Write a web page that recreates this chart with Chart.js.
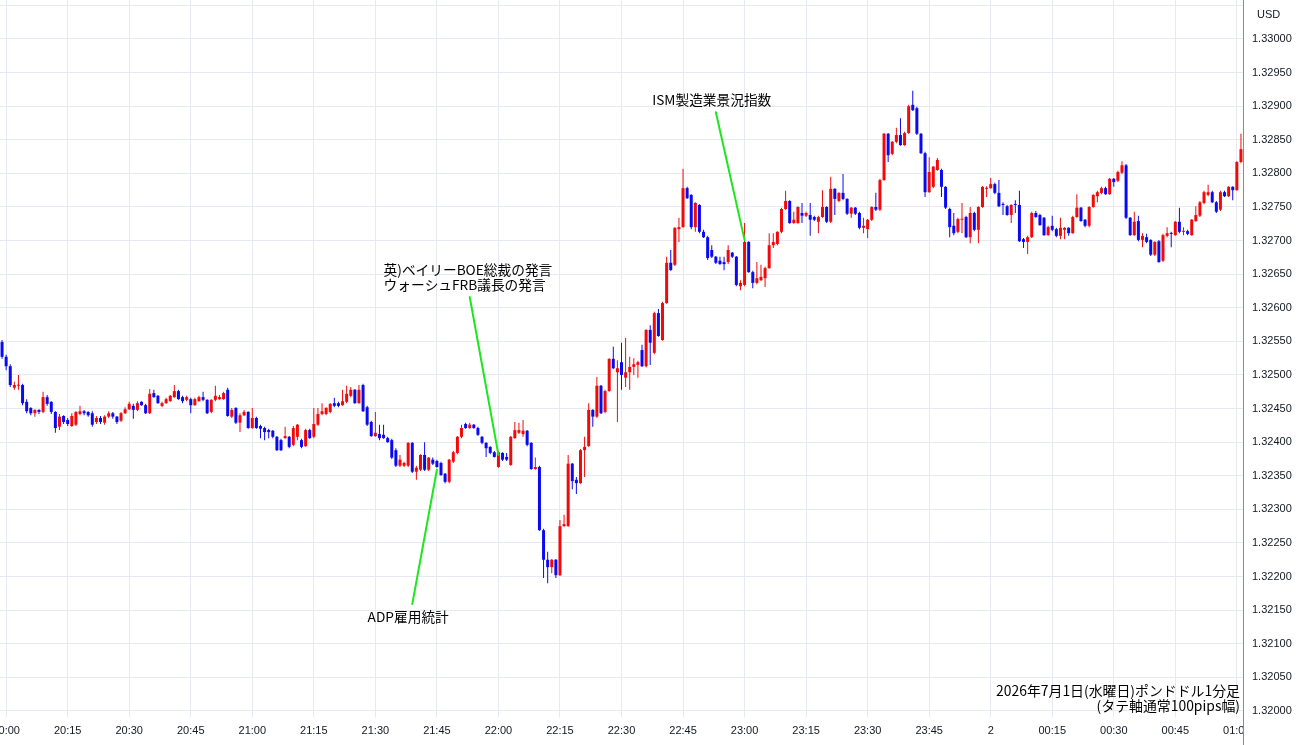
<!DOCTYPE html>
<html>
<head>
<meta charset="utf-8">
<script src="https://cdn.jsdelivr.net/npm/chart.js@4.4.1/dist/chart.umd.min.js"></script>
<style>
  html, body { margin: 0; padding: 0; background: #fff; overflow: hidden; }
  canvas { display: block; }
</style>
</head>
<body>
<canvas id="myChart" width="1300" height="745"></canvas>
<script>
// GBP/USD 1-minute candles, first candle at 19:59
const startTime = '19:59';

const opens = [
1.32549,1.32527,1.32513,1.32481,1.32484,1.32485,1.32460,1.32451,1.32443,1.32448,
1.32445,1.32467,1.32460,1.32445,1.32423,1.32439,1.32433,1.32424,1.32426,1.32442,
1.32446,1.32445,1.32443,1.32430,1.32436,1.32429,1.32438,1.32443,1.32438,1.32432,
1.32443,1.32449,1.32454,1.32448,1.32460,1.32455,1.32443,1.32473,1.32469,1.32454,
1.32458,1.32461,1.32467,1.32476,1.32467,1.32463,1.32464,1.32455,1.32461,1.32467,
1.32463,1.32445,1.32463,1.32464,1.32464,1.32478,1.32438,1.32451,1.32429,1.32440,
1.32445,1.32421,1.32436,1.32424,1.32421,1.32418,1.32417,1.32408,1.32403,1.32406,
1.32408,1.32396,1.32408,1.32403,1.32394,1.32418,1.32408,1.32426,1.32442,1.32442,
1.32445,1.32458,1.32458,1.32455,1.32460,1.32469,1.32478,1.32458,1.32485,1.32452,
1.32430,1.32409,1.32412,1.32411,1.32406,1.32403,1.32388,1.32365,1.32365,1.32365,
1.32399,1.32356,1.32359,1.32381,1.32359,1.32374,1.32372,1.32369,1.32353,1.32341,
1.32371,1.32384,1.32408,1.32427,1.32421,1.32426,1.32421,1.32408,1.32399,1.32393,
1.32385,1.32363,1.32384,1.32378,1.32366,1.32406,1.32414,1.32412,1.32417,1.32399,
1.32360,1.32363,1.32269,1.32225,1.32214,1.32225,1.32202,1.32275,1.32275,1.32368,
1.32344,1.32339,1.32388,1.32394,1.32448,1.32438,1.32484,1.32445,1.32476,1.32524,
1.32504,1.32519,1.32496,1.32504,1.32512,1.32515,1.32537,1.32513,1.32567,1.32533,
1.32592,1.32552,1.32607,1.32667,1.32664,1.32717,1.32720,1.32778,1.32768,1.32720,
1.32753,1.32713,1.32705,1.32686,1.32676,1.32670,1.32668,1.32668,1.32682,1.32676,
1.32632,1.32634,1.32698,1.32653,1.32637,1.32641,1.32644,1.32659,1.32693,1.32695,
1.32713,1.32747,1.32759,1.32726,1.32726,1.32741,1.32737,1.32738,1.32735,1.32728,
1.32735,1.32750,1.32728,1.32777,1.32759,1.32771,1.32762,1.32740,1.32749,1.32741,
1.32719,1.32717,1.32731,1.32750,1.32746,1.32790,1.32859,1.32829,1.32847,1.32857,
1.32842,1.32860,1.32902,1.32897,1.32859,1.32830,1.32772,1.32780,1.32805,1.32805,
1.32780,1.32747,1.32722,1.32713,1.32731,1.32735,1.32705,1.32741,1.32716,1.32750,
1.32777,1.32778,1.32784,1.32771,1.32754,1.32751,1.32738,1.32754,1.32753,1.32702,
1.32698,1.32705,1.32741,1.32738,1.32734,1.32708,1.32722,1.32717,1.32707,1.32716,
1.32719,1.32711,1.32735,1.32749,1.32731,1.32722,1.32750,1.32766,1.32771,1.32778,
1.32769,1.32792,1.32789,1.32801,1.32812,1.32734,1.32708,1.32729,1.32701,1.32705,
1.32701,1.32679,1.32699,1.32670,1.32707,1.32711,1.32708,1.32728,1.32713,1.32714,
1.32708,1.32729,1.32737,1.32756,1.32768,1.32772,1.32757,1.32746,1.32772,1.32766,
1.32780,1.32775,1.32817
];

const highs = [
1.32552,1.32530,1.32516,1.32490,1.32500,1.32487,1.32464,1.32452,1.32449,1.32449,
1.32475,1.32470,1.32461,1.32446,1.32442,1.32440,1.32436,1.32443,1.32446,1.32454,
1.32448,1.32446,1.32446,1.32439,1.32439,1.32440,1.32446,1.32445,1.32439,1.32445,
1.32452,1.32460,1.32457,1.32461,1.32461,1.32457,1.32479,1.32478,1.32470,1.32460,
1.32466,1.32470,1.32485,1.32478,1.32469,1.32469,1.32466,1.32466,1.32469,1.32475,
1.32464,1.32464,1.32484,1.32470,1.32475,1.32481,1.32451,1.32452,1.32443,1.32448,
1.32446,1.32451,1.32438,1.32426,1.32423,1.32420,1.32418,1.32409,1.32405,1.32423,
1.32409,1.32424,1.32427,1.32405,1.32420,1.32420,1.32451,1.32451,1.32458,1.32452,
1.32458,1.32466,1.32460,1.32478,1.32484,1.32482,1.32479,1.32485,1.32487,1.32454,
1.32432,1.32445,1.32426,1.32426,1.32408,1.32405,1.32391,1.32381,1.32371,1.32400,
1.32400,1.32365,1.32382,1.32400,1.32378,1.32377,1.32374,1.32371,1.32354,1.32375,
1.32387,1.32409,1.32426,1.32429,1.32429,1.32427,1.32423,1.32409,1.32400,1.32394,
1.32387,1.32387,1.32385,1.32384,1.32409,1.32430,1.32429,1.32433,1.32418,1.32400,
1.32377,1.32365,1.32271,1.32237,1.32226,1.32226,1.32284,1.32292,1.32381,1.32369,
1.32348,1.32390,1.32408,1.32458,1.32449,1.32497,1.32485,1.32478,1.32525,1.32542,
1.32522,1.32548,1.32555,1.32527,1.32525,1.32521,1.32545,1.32568,1.32574,1.32594,
1.32598,1.32609,1.32676,1.32686,1.32720,1.32734,1.32807,1.32780,1.32769,1.32757,
1.32754,1.32716,1.32707,1.32693,1.32677,1.32676,1.32676,1.32693,1.32683,1.32677,
1.32641,1.32726,1.32699,1.32655,1.32668,1.32664,1.32661,1.32711,1.32711,1.32714,
1.32749,1.32774,1.32760,1.32743,1.32751,1.32756,1.32743,1.32756,1.32737,1.32737,
1.32775,1.32751,1.32795,1.32778,1.32772,1.32799,1.32763,1.32750,1.32750,1.32743,
1.32734,1.32732,1.32751,1.32771,1.32792,1.32860,1.32860,1.32848,1.32868,1.32882,
1.32862,1.32902,1.32923,1.32899,1.32860,1.32832,1.32824,1.32811,1.32823,1.32807,
1.32781,1.32749,1.32741,1.32734,1.32756,1.32737,1.32750,1.32743,1.32751,1.32781,
1.32781,1.32793,1.32786,1.32790,1.32757,1.32753,1.32754,1.32760,1.32774,1.32704,
1.32707,1.32743,1.32744,1.32740,1.32735,1.32722,1.32737,1.32719,1.32734,1.32720,
1.32720,1.32737,1.32769,1.32750,1.32732,1.32751,1.32769,1.32774,1.32780,1.32780,
1.32793,1.32793,1.32804,1.32818,1.32814,1.32735,1.32743,1.32737,1.32711,1.32710,
1.32702,1.32699,1.32701,1.32710,1.32720,1.32713,1.32729,1.32749,1.32720,1.32716,
1.32732,1.32751,1.32759,1.32774,1.32783,1.32774,1.32759,1.32774,1.32774,1.32781,
1.32781,1.32818,1.32859
];

const lows = [
1.32524,1.32507,1.32482,1.32478,1.32478,1.32455,1.32443,1.32440,1.32438,1.32442,
1.32443,1.32454,1.32442,1.32414,1.32418,1.32427,1.32424,1.32423,1.32424,1.32440,
1.32440,1.32438,1.32423,1.32427,1.32427,1.32426,1.32436,1.32435,1.32427,1.32430,
1.32442,1.32448,1.32435,1.32446,1.32454,1.32442,1.32442,1.32466,1.32457,1.32452,
1.32457,1.32460,1.32466,1.32463,1.32458,1.32461,1.32443,1.32454,1.32460,1.32461,
1.32442,1.32443,1.32461,1.32463,1.32463,1.32438,1.32436,1.32427,1.32415,1.32439,
1.32420,1.32420,1.32420,1.32406,1.32403,1.32406,1.32406,1.32387,1.32387,1.32405,
1.32391,1.32394,1.32403,1.32391,1.32393,1.32405,1.32406,1.32424,1.32440,1.32440,
1.32443,1.32452,1.32452,1.32454,1.32458,1.32467,1.32457,1.32457,1.32445,1.32424,
1.32408,1.32408,1.32403,1.32405,1.32399,1.32375,1.32363,1.32363,1.32363,1.32363,
1.32354,1.32344,1.32357,1.32357,1.32357,1.32366,1.32362,1.32350,1.32339,1.32339,
1.32369,1.32382,1.32406,1.32420,1.32420,1.32420,1.32409,1.32397,1.32378,1.32382,
1.32377,1.32362,1.32372,1.32372,1.32365,1.32405,1.32412,1.32408,1.32394,1.32359,
1.32359,1.32268,1.32198,1.32190,1.32205,1.32198,1.32201,1.32274,1.32274,1.32330,
1.32323,1.32338,1.32348,1.32393,1.32423,1.32436,1.32442,1.32443,1.32475,1.32509,
1.32430,1.32478,1.32482,1.32478,1.32500,1.32496,1.32512,1.32511,1.32515,1.32531,
1.32557,1.32551,1.32606,1.32655,1.32662,1.32698,1.32719,1.32762,1.32717,1.32713,
1.32711,1.32704,1.32671,1.32674,1.32665,1.32664,1.32656,1.32665,1.32674,1.32632,
1.32626,1.32632,1.32652,1.32629,1.32635,1.32640,1.32631,1.32658,1.32689,1.32693,
1.32711,1.32746,1.32725,1.32725,1.32725,1.32726,1.32735,1.32707,1.32729,1.32711,
1.32734,1.32726,1.32726,1.32738,1.32757,1.32760,1.32738,1.32734,1.32738,1.32717,
1.32711,1.32704,1.32729,1.32744,1.32744,1.32789,1.32817,1.32827,1.32845,1.32841,
1.32841,1.32859,1.32893,1.32857,1.32829,1.32765,1.32771,1.32778,1.32804,1.32765,
1.32747,1.32705,1.32708,1.32711,1.32711,1.32704,1.32696,1.32714,1.32696,1.32749,
1.32765,1.32777,1.32769,1.32750,1.32738,1.32737,1.32726,1.32741,1.32698,1.32689,
1.32680,1.32704,1.32734,1.32722,1.32707,1.32707,1.32714,1.32705,1.32702,1.32702,
1.32707,1.32710,1.32734,1.32728,1.32720,1.32720,1.32749,1.32757,1.32769,1.32768,
1.32768,1.32780,1.32787,1.32799,1.32732,1.32707,1.32707,1.32699,1.32690,1.32696,
1.32677,1.32677,1.32667,1.32668,1.32705,1.32690,1.32707,1.32711,1.32708,1.32708,
1.32707,1.32728,1.32735,1.32754,1.32766,1.32756,1.32741,1.32744,1.32765,1.32765,
1.32760,1.32774,1.32815
];

const closes = [
1.32527,1.32513,1.32485,1.32485,1.32485,1.32458,1.32446,1.32443,1.32448,1.32445,
1.32467,1.32457,1.32445,1.32421,1.32438,1.32430,1.32427,1.32439,1.32445,1.32446,
1.32443,1.32440,1.32426,1.32436,1.32430,1.32438,1.32443,1.32438,1.32430,1.32443,
1.32449,1.32457,1.32448,1.32458,1.32455,1.32443,1.32472,1.32467,1.32458,1.32458,
1.32464,1.32469,1.32476,1.32464,1.32461,1.32467,1.32455,1.32464,1.32467,1.32463,
1.32443,1.32463,1.32469,1.32467,1.32473,1.32439,1.32448,1.32429,1.32440,1.32445,
1.32421,1.32436,1.32421,1.32420,1.32415,1.32415,1.32408,1.32388,1.32388,1.32409,
1.32393,1.32421,1.32426,1.32393,1.32418,1.32406,1.32427,1.32442,1.32446,1.32451,
1.32457,1.32454,1.32454,1.32461,1.32472,1.32478,1.32458,1.32478,1.32446,1.32426,
1.32409,1.32414,1.32406,1.32406,1.32400,1.32377,1.32365,1.32374,1.32369,1.32399,
1.32356,1.32362,1.32381,1.32359,1.32377,1.32368,1.32363,1.32351,1.32341,1.32374,
1.32385,1.32408,1.32421,1.32421,1.32426,1.32421,1.32411,1.32399,1.32391,1.32384,
1.32378,1.32385,1.32374,1.32374,1.32408,1.32418,1.32418,1.32417,1.32396,1.32360,
1.32363,1.32269,1.32225,1.32214,1.32225,1.32202,1.32275,1.32278,1.32368,1.32342,
1.32339,1.32388,1.32393,1.32448,1.32438,1.32484,1.32443,1.32476,1.32524,1.32510,
1.32510,1.32500,1.32504,1.32512,1.32516,1.32519,1.32513,1.32567,1.32548,1.32592,
1.32558,1.32607,1.32667,1.32656,1.32719,1.32720,1.32778,1.32763,1.32720,1.32756,
1.32713,1.32705,1.32674,1.32676,1.32667,1.32665,1.32665,1.32686,1.32676,1.32634,
1.32637,1.32698,1.32653,1.32637,1.32644,1.32646,1.32659,1.32693,1.32698,1.32713,
1.32747,1.32759,1.32726,1.32731,1.32750,1.32737,1.32741,1.32731,1.32731,1.32735,
1.32750,1.32728,1.32777,1.32762,1.32771,1.32762,1.32740,1.32749,1.32740,1.32719,
1.32722,1.32731,1.32750,1.32746,1.32790,1.32859,1.32827,1.32847,1.32857,1.32842,
1.32860,1.32900,1.32894,1.32859,1.32830,1.32772,1.32802,1.32810,1.32820,1.32780,
1.32749,1.32720,1.32711,1.32732,1.32732,1.32705,1.32741,1.32716,1.32750,1.32780,
1.32778,1.32784,1.32771,1.32751,1.32753,1.32738,1.32753,1.32753,1.32699,1.32698,
1.32705,1.32741,1.32735,1.32723,1.32708,1.32720,1.32716,1.32707,1.32719,1.32719,
1.32711,1.32735,1.32749,1.32729,1.32722,1.32750,1.32768,1.32772,1.32778,1.32769,
1.32792,1.32787,1.32802,1.32812,1.32734,1.32708,1.32728,1.32701,1.32707,1.32698,
1.32679,1.32698,1.32668,1.32708,1.32711,1.32710,1.32728,1.32713,1.32714,1.32710,
1.32731,1.32738,1.32757,1.32772,1.32772,1.32757,1.32743,1.32772,1.32766,1.32780,
1.32775,1.32817,1.32836
];

// price axis
const yMin = 1.31991;
const yMax = 1.33058;
const yStep = 0.0005;
const yLabelTop = 1.33000;

// event notes
const noteTexts = [['ADP雇用統計'], ['英)ベイリーBOE総裁の発言', 'ウォーシュFRB議長の発言'], ['ISM製造業景況指数']];
const noteTextTimes = ['21:38', '21:32', '22:52'];
const noteTextPrices = [1.32140, 1.32656, 1.32909];
const noteAligns = ['center', 'left', 'center'];
const noteFromTimes = ['21:39', '21:53', '22:53'];
const noteFromPrices = [1.32159, 1.32616, 1.32891];
const noteToTimes = ['21:45', '22:00', '23:00'];
const noteToPrices = [1.32359, 1.32381, 1.32701];

const captionLines = ['2026年7月1日(水曜日)ポンドドル1分足', '(タテ軸通常100pips幅)'];
const currency = 'USD';

const upColor = '#f20a0a';
const downColor = '#0a0af2';
const gridColor = '#e6eaf0';
const textColor = '#131722';
const jpFont = '"Noto Sans CJK JP", "Noto Sans", sans-serif';
const tickFont = '"Liberation Sans", Arial, sans-serif';

// minute labels
const times = [];
let [hh, mm] = startTime.split(':').map(Number);
for (let i = 0; i < opens.length; i++) {
  times.push(String(hh).padStart(2, '0') + ':' + String(mm).padStart(2, '0'));
  mm++;
  if (mm === 60) { mm = 0; hh = (hh + 1) % 24; }
}

const colors = closes.map((c, i) => c >= opens[i] ? upColor : downColor);

const extras = {
  id: 'extras',
  afterDatasetsDraw(chart) {
    const { ctx, scales: { x, y } } = chart;
    ctx.save();
    ctx.strokeStyle = '#1ee61e';
    ctx.lineWidth = 2;
    ctx.lineCap = 'round';
    for (let k = 0; k < noteTexts.length; k++) {
      ctx.beginPath();
      ctx.moveTo(x.getPixelForValue(times.indexOf(noteFromTimes[k])), y.getPixelForValue(noteFromPrices[k]));
      ctx.lineTo(x.getPixelForValue(times.indexOf(noteToTimes[k])), y.getPixelForValue(noteToPrices[k]));
      ctx.stroke();
    }
    ctx.fillStyle = '#000';
    ctx.font = '13.7px ' + jpFont;
    ctx.textBaseline = 'middle';
    for (let k = 0; k < noteTexts.length; k++) {
      const tx = x.getPixelForValue(times.indexOf(noteTextTimes[k]));
      const ty = y.getPixelForValue(noteTextPrices[k]);
      ctx.textAlign = noteAligns[k];
      noteTexts[k].forEach((t, j) => ctx.fillText(t, tx, ty + j * 15));
    }
    ctx.restore();
  },
  afterDraw(chart) {
    const { ctx, chartArea: a, width, height } = chart;
    ctx.save();
    // hide the x label that runs under the price scale
    ctx.fillStyle = '#fff';
    ctx.fillRect(a.right + 1, a.bottom, width - a.right, height - a.bottom);
    ctx.strokeStyle = '#8c8c8c';
    ctx.lineWidth = 1;
    ctx.beginPath();
    ctx.moveTo(Math.round(a.right) + 0.5, 0);
    ctx.lineTo(Math.round(a.right) + 0.5, height);
    ctx.stroke();
    ctx.fillStyle = textColor;
    ctx.font = '11px ' + tickFont;
    ctx.textBaseline = 'middle';
    ctx.textAlign = 'left';
    ctx.fillText(currency, a.right + 14, 15);
    ctx.fillStyle = '#000';
    ctx.font = '13.9px ' + jpFont;
    ctx.textAlign = 'right';
    ctx.fillText(captionLines[0], a.right - 3, a.bottom - 26);
    ctx.fillText(captionLines[1], a.right - 3, a.bottom - 11);
    ctx.restore();
  }
};

new Chart(document.getElementById('myChart'), {
  type: 'bar',
  data: {
    labels: times,
    datasets: [
      {
        label: 'body',
        data: opens.map((o, i) => [o, closes[i]]),
        backgroundColor: colors,
        barThickness: 3,
        minBarLength: 1,
        grouped: false,
        inflateAmount: 0,
        order: 0
      },
      {
        label: 'wick',
        data: lows.map((l, i) => [l, highs[i]]),
        backgroundColor: colors,
        barThickness: 1,
        grouped: false,
        inflateAmount: 0,
        order: 1
      }
    ]
  },
  options: {
    responsive: false,
    animation: false,
    devicePixelRatio: 1,
    layout: { padding: 0 },
    plugins: { legend: { display: false }, tooltip: { enabled: false } },
    scales: {
      x: {
        type: 'category',
        offset: true,
        afterFit(s) { s.height = 28; s.paddingLeft = 0; s.paddingRight = 0; },
        border: { display: false },
        grid: { color: gridColor, drawTicks: false, offset: false },
        ticks: {
          autoSkip: false,
          maxRotation: 0,
          minRotation: 0,
          padding: 7,
          color: textColor,
          font: { family: tickFont, size: 11 },
          callback(v, i) {
            const t = times[i];
            if (!/:(00|15|30|45)$/.test(t)) return null;
            return t === '00:00' ? '2' : t;
          }
        }
      },
      y: {
        position: 'right',
        min: yMin,
        max: yMax,
        afterFit(s) { s.width = 57; s.paddingTop = 0; s.paddingBottom = 0; },
        border: { display: false },
        grid: { color: gridColor, drawTicks: false },
        ticks: {
          stepSize: yStep,
          includeBounds: false,
          padding: 9,
          color: textColor,
          font: { family: tickFont, size: 11 },
          callback: v => v > yLabelTop + 1e-7 ? '' : v.toFixed(5)
        }
      }
    }
  },
  plugins: [extras]
});
</script>
</body>
</html>
